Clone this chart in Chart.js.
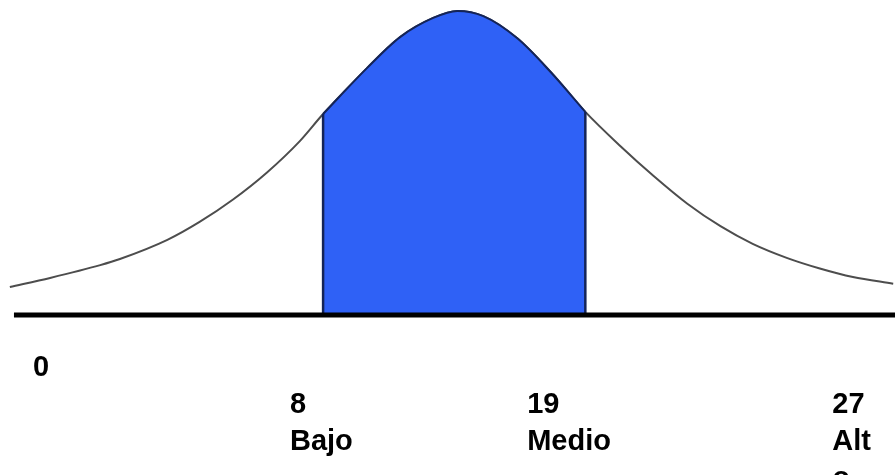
<!DOCTYPE html>
<html>
<head>
<meta charset="utf-8">
<script src="https://cdn.jsdelivr.net/npm/chart.js@4/dist/chart.umd.min.js"></script>
<style>
    html, body { margin: 0; padding: 0; background: #fff; }
    #wrap { width: 895px; height: 475px; }
</style>
</head>
<body>
<div id="wrap"><canvas id="bell-chart" width="895" height="475"></canvas></div>
<script>
(function(window) {
    'use strict';

    // Curve (x across the width 0-100, y relative to the peak)
    var curveX = [1.1, 5.6, 11.2, 13.4, 18.7, 22.3, 26.0, 29.8, 33.5, 36.1, 41.0, 44.7, 48.4, 51.1,
                  54.0, 57.8, 61.5, 65.4, 69.3, 73.0, 76.8, 80.5, 84.1, 87.9, 91.6, 95.3, 99.8];
    var curveY = [0.092, 0.122, 0.164, 0.184, 0.247, 0.306, 0.379, 0.468, 0.572, 0.661, 0.812, 0.914, 0.977, 1.0,
                  0.983, 0.910, 0.800, 0.668, 0.556, 0.458, 0.366, 0.292, 0.234, 0.188, 0.153, 0.125, 0.103];

    // Shaded band limits (same x units as the curve)
    var bandFrom = 36.1;
    var bandTo = 65.4;

    // Labels under the axis and where each one starts
    var tickLabels = [['0'], ['', '8', 'Bajo'], ['', '19', 'Medio'], ['', '27', 'Alt', 'o']];
    var tickAnchors = [3.7, 32.4, 58.9, 93.0];

    var blue = '#2f61f6';
    var navy = '#142458';

    function points(xs, ys, from, to) {
        var out = [];
        xs.forEach(function(x, i) {
            if (x >= from && x <= to) {
                out.push({ x: x, y: ys[i] });
            }
        });
        return out;
    }

    var fullCurve = points(curveX, curveY, -Infinity, Infinity);
    var bandCurve = points(curveX, curveY, bandFrom, bandTo);
    var bandLeftTop = bandCurve[0].y;
    var bandRightTop = bandCurve[bandCurve.length - 1].y;

    var ctx = document.getElementById('bell-chart');

    new Chart(ctx, {
        type: 'line',
        data: {
            datasets: [
                {
                    // baseline
                    data: [{ x: 1.56, y: 0 }, { x: 100, y: 0 }],
                    borderColor: '#000',
                    borderWidth: 5,
                    clip: false,
                    order: 0
                },
                {
                    data: [{ x: bandFrom, y: 0 }, { x: bandFrom, y: bandLeftTop }],
                    borderColor: navy,
                    borderWidth: 2.5,
                    order: 1
                },
                {
                    data: [{ x: bandTo, y: 0 }, { x: bandTo, y: bandRightTop }],
                    borderColor: navy,
                    borderWidth: 2.5,
                    order: 1
                },
                {
                    // shaded band
                    data: bandCurve,
                    borderColor: navy,
                    borderWidth: 2,
                    backgroundColor: blue,
                    fill: 'origin',
                    cubicInterpolationMode: 'monotone',
                    order: 2
                },
                {
                    // full curve
                    data: fullCurve,
                    borderColor: '#4d4d4d',
                    borderWidth: 2,
                    fill: false,
                    cubicInterpolationMode: 'monotone',
                    order: 3
                }
            ]
        },
        options: {
            responsive: false,
            animation: false,
            layout: { padding: 0 },
            elements: { point: { radius: 0, hoverRadius: 0 } },
            plugins: {
                legend: { display: false },
                tooltip: { enabled: false }
            },
            scales: {
                x: {
                    type: 'linear',
                    min: 0,
                    max: 100,
                    border: { display: false },
                    grid: { display: false, drawTicks: false },
                    afterBuildTicks: function(scale) {
                        scale.ticks = tickAnchors.map(function(v) { return { value: v }; });
                    },
                    afterFit: function(scale) {
                        scale.height = 160;
                        scale.paddingLeft = 0;
                        scale.paddingRight = 0;
                    },
                    ticks: {
                        autoSkip: false,
                        maxRotation: 0,
                        minRotation: 0,
                        align: 'start',
                        padding: 34,
                        color: '#000',
                        font: { family: '"Liberation Sans", Arial, sans-serif', size: 29, weight: 'bold', lineHeight: 1.28 },
                        callback: function(value, index) {
                            return tickLabels[index];
                        }
                    }
                },
                y: {
                    display: false,
                    min: 0,
                    max: 1.036
                }
            }
        }
    });

})(window);
</script>
</body>
</html>
